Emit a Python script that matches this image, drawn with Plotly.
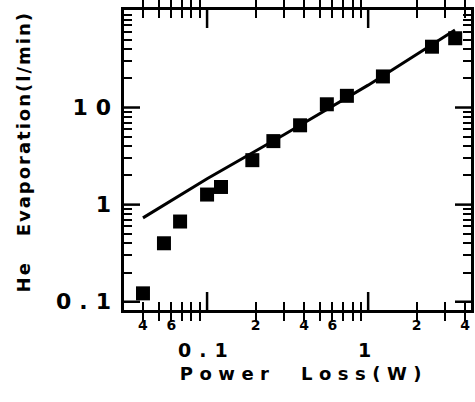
import numpy as np
import plotly.graph_objects as go

# ---- data ----
power_loss = [0.040, 0.054, 0.068, 0.100, 0.122, 0.191, 0.258, 0.378, 0.554, 0.738, 1.235, 2.49, 3.47]
he_evap = [0.122, 0.40, 0.67, 1.27, 1.52, 2.87, 4.51, 6.56, 10.8, 13.2, 20.9, 42.3, 51.7]

fit_power = [0.040, 0.10, 0.30, 1.0, 3.46]
fit_evap = [0.73, 1.85, 5.25, 17.0, 63.0]

# decade (long) ticks with big labels
x_major_vals = [0.1, 1]
x_major_text = ["0.1", "1"]
# short ticks with small digit labels
x_minor_vals = [0.04, 0.05, 0.06, 0.07, 0.08, 0.09,
                0.2, 0.3, 0.4, 0.5, 0.6, 0.7, 0.8, 0.9,
                2, 3, 4]
x_minor_text = ["4", "", "6", "", "", "",
                "2", "", "4", "", "6", "", "", "",
                "2", "", "4"]

y_major_vals = [0.1, 1, 10]
y_major_text = ["0.1", "1", "10"]
y_minor_vals = [0.2, 0.3, 0.4, 0.5, 0.6, 0.7, 0.8, 0.9,
                2, 3, 4, 5, 6, 7, 8, 9,
                20, 30, 40, 50, 60, 70, 80, 90]

x_range = [0.0305, 4.35]
y_range = [0.0822, 101]

FONT = "DejaVu Sans"
NB = "\u00a0"
xr = [np.log10(x_range[0]), np.log10(x_range[1])]
yr = [np.log10(y_range[0]), np.log10(y_range[1])]

W, H = 475, 402
ML, MR, MT, MB = 124, 4, 10, 92
PW, PH = W - ML - MR, H - MT - MB
LONG_X, LONG_Y = 18, 16  # long decade tick lengths in px

fig = go.Figure()
# fitted line drawn against the overlay y axis (identical range to the main y axis)
fig.add_trace(go.Scatter(
    x=fit_power, y=fit_evap, mode="lines", xaxis="x", yaxis="y2",
    line=dict(color="black", width=3), showlegend=False))
fig.add_trace(go.Scatter(
    x=power_loss, y=he_evap, mode="markers",
    marker=dict(symbol="square", size=14, color="black"), showlegend=False))

# long decade ticks (bottom/top and left/right); shapes on log axes take data values
tick_line = dict(color="black", width=2.5)
for v in x_major_vals:
    for y0, y1 in [(0, LONG_X / PH), (1, 1 - LONG_X / PH)]:
        fig.add_shape(type="line", xref="x", yref="paper", x0=v, x1=v,
                      y0=y0, y1=y1, line=tick_line, layer="above")
for v in y_major_vals:
    for x0, x1 in [(0, LONG_Y / PW), (1, 1 - LONG_Y / PW)]:
        fig.add_shape(type="line", xref="paper", yref="y", y0=v, y1=v,
                      x0=x0, x1=x1, line=tick_line, layer="above")

# big decade labels under the x axis (annotations on log axes take log10 values)
for v, t in zip(x_major_vals, x_major_text):
    fig.add_annotation(x=np.log10(v), y=0, xref="x", yref="paper",
                       yanchor="middle", yshift=-40, showarrow=False,
                       text="<b>%s</b>" % t,
                       font=dict(family=FONT, size=19, color="black"))

common = dict(type="log", automargin=False, showgrid=False, zeroline=False,
              tickcolor="black", tickmode="array")

fig.update_layout(
    width=W, height=H,
    margin=dict(l=ML, r=MR, t=MT, b=MB, autoexpand=False),
    paper_bgcolor="white", plot_bgcolor="white",
    font=dict(family=FONT, color="black"),
    xaxis=dict(
        **common, range=xr,
        showline=True, linewidth=3, linecolor="black", mirror="allticks",
        ticks="inside", ticklen=8, tickwidth=2,
        tickvals=x_minor_vals, ticktext=x_minor_text,
        tickfont=dict(family=FONT, size=14, color="black", weight="bold"),
        title=dict(text="<b>" + NB + "Power" + NB + " Loss(W)</b>",
                   font=dict(family=FONT, size=18, color="black"),
                   standoff=36),
    ),
    yaxis=dict(
        **common, range=yr,
        showline=True, linewidth=3, linecolor="black", mirror="allticks",
        ticks="inside", ticklen=8, tickwidth=2,
        tickvals=y_minor_vals, ticktext=[""] * len(y_minor_vals),
        title=dict(text="<b>" + NB + NB + "He" + NB * 3 + "Evaporation(l/min)</b>",
                   font=dict(family=FONT, size=18, color="black"),
                   standoff=84),
    ),
    yaxis2=dict(
        **common, range=yr, overlaying="y", anchor="x", side="left",
        showline=False, ticks="",
        tickvals=y_major_vals, ticktext=y_major_text,
        tickfont=dict(family=FONT, size=22, color="black", weight="bold"),
        ticklabelstandoff=4,
    ),
)

post = """
document.body.style.margin = '0';
var gd = document.getElementById('{plot_id}');
gd.querySelectorAll('.xtitle').forEach(function(e){e.setAttribute('letter-spacing','6.5px');});
gd.querySelectorAll('.ytitle').forEach(function(e){e.setAttribute('letter-spacing','2px');});
gd.querySelectorAll('.y2tick text').forEach(function(e){e.setAttribute('letter-spacing','8px');});
gd.querySelectorAll('.annotation-text').forEach(function(e){e.setAttribute('letter-spacing','8px');});
"""

fig.write_html("out.html", post_script=post, config={"displayModeBar": False})
